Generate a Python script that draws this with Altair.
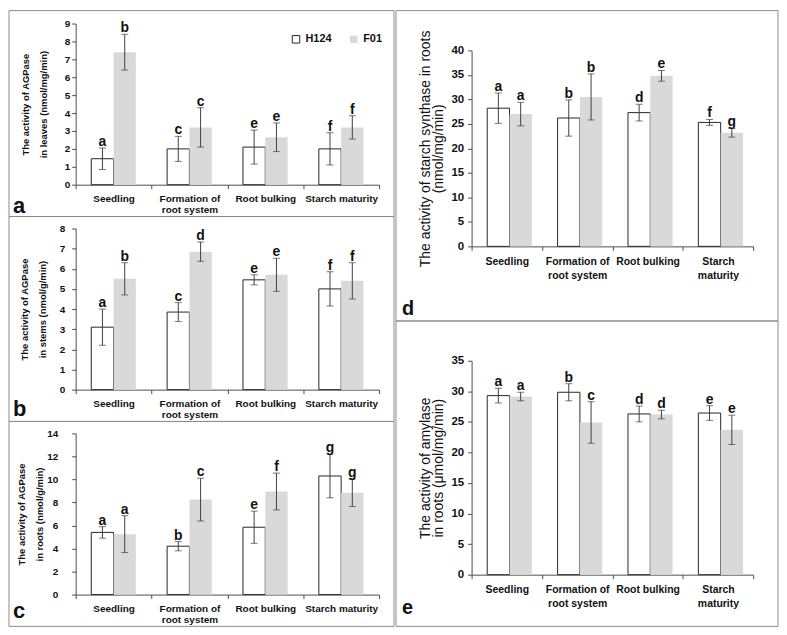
import altair as alt
import pandas as pd

stages = ["Seedling", "Formation of root system", "Root bulking", "Starch maturity"]
varieties = ["H124", "F01"]

# Panel a: AGPase in leaves
a_h124 = [1.45, 2.0, 2.1, 2.0]
a_f01 = [7.4, 3.2, 2.65, 3.2]
a_h124_err = [0.6, 0.7, 0.95, 0.9]
a_f01_err = [1.0, 1.1, 0.8, 0.65]
a_h124_let = ["a", "c", "e", "f"]
a_f01_let = ["b", "c", "e", "f"]

# Panel b: AGPase in stems
b_h124 = [3.1, 3.85, 5.45, 5.0]
b_f01 = [5.5, 6.85, 5.7, 5.4]
b_h124_err = [0.9, 0.47, 0.25, 0.85]
b_f01_err = [0.8, 0.48, 0.82, 0.9]
b_h124_let = ["a", "c", "e", "f"]
b_f01_let = ["b", "d", "e", "f"]

# Panel c: AGPase in roots
c_h124 = [5.4, 4.2, 5.85, 10.3]
c_f01 = [5.25, 8.25, 8.95, 8.85]
c_h124_err = [0.5, 0.4, 1.4, 1.9]
c_f01_err = [1.6, 1.85, 1.6, 1.2]
c_h124_let = ["a", "b", "e", "g"]
c_f01_let = ["a", "c", "f", "g"]

# Panel d: starch synthase in roots
d_h124 = [28.2, 26.2, 27.3, 25.3]
d_f01 = [27.0, 30.5, 34.8, 23.2]
d_h124_err = [3.1, 3.7, 1.7, 0.6]
d_f01_err = [2.4, 4.7, 1.1, 0.9]
d_h124_let = ["a", "b", "d", "f"]
d_f01_let = ["a", "b", "e", "g"]

# Panel e: amylase in roots
e_h124 = [29.3, 29.85, 26.3, 26.45]
e_f01 = [29.15, 24.9, 26.2, 23.7]
e_h124_err = [1.2, 1.4, 1.3, 1.2]
e_f01_err = [0.7, 3.4, 0.7, 2.4]
e_h124_let = ["a", "b", "d", "e"]
e_f01_let = ["a", "c", "d", "e"]

GREY = "#d9d9d9"
AX = "#4d4d4d"
EB = "#404040"
FRAME = "#8c8c8c"
TXT = "#111111"


def make_df(h, f, he, fe, hl, fl):
    rows = []
    for i, s in enumerate(stages):
        rows.append({"stage": s, "variety": "H124", "mean": h[i], "err": he[i], "letter": hl[i]})
        rows.append({"stage": s, "variety": "F01", "mean": f[i], "err": fe[i], "letter": fl[i]})
    df = pd.DataFrame(rows)
    df["lo"] = df["mean"] - df["err"]
    df["hi"] = df["mean"] + df["err"]
    return df


dummy = pd.DataFrame({"k": [0]})


def panel(df, ymax, ystep, ytitle, geo, left, f01_stroke, ylabpad, ytitlepad,
          leg_xy, letter, letter_xy, extra=0):
    L, T, W, H, R, B = geo
    if left:
        expr = ("datum.value == 'Formation of root system' ? "
                "['Formation of', 'root system'] : datum.value")
    else:
        expr = ("datum.value == 'Formation of root system' ? "
                "['Formation of', 'root system'] : "
                "(datum.value == 'Starch maturity' ? ['Starch', 'maturity'] : datum.value)")
    xaxis = alt.Axis(
        title=None, labelAngle=0, tickBand="extent", labelExpr=expr,
        labelFontSize=10 if left else 10.5,
        labelFontWeight="bold",
        labelColor=TXT, labelLineHeight=11 if left else 14,
        labelPadding=5 if left else 6, tickSize=4,
        domainColor=AX, tickColor=AX,
    )
    x = alt.X("stage:N", sort=stages,
              scale=alt.Scale(paddingInner=0, paddingOuter=0), axis=xaxis)
    xo = alt.XOffset("variety:N", sort=varieties,
                     scale=alt.Scale(paddingInner=0,
                                     paddingOuter=0.7 if left else 0.76))
    yaxis = alt.Axis(
        values=list(range(0, ymax + 1, ystep)), grid=False, title=ytitle,
        titleFontSize=9.5 if left else 14,
        titleFontWeight="bold" if left else "normal",
        titleLineHeight=18 if left else 14,
        titlePadding=ytitlepad, titleColor=TXT,
        labelFontSize=10 if left else 11.5,
        labelFontWeight="bold",
        labelColor=TXT, labelPadding=ylabpad, tickSize=4,
        domainColor=AX, tickColor=AX,
    )
    if extra > 0:
        yscale = alt.Scale(domain=[0, ymax], nice=False, zero=True,
                           range=[H + extra, extra])
    else:
        yscale = alt.Scale(domain=[0, ymax], nice=False, zero=True)

    leg = alt.Legend(
        title=None, orient="none", legendX=leg_xy[0], legendY=leg_xy[1] + extra,
        direction="horizontal", symbolType="square",
        symbolSize=56 if left else 40, symbolStrokeWidth=1,
        labelFontSize=11 if left else 11.5,
        labelFontWeight="bold",
        labelColor=TXT, labelOffset=4 if left else 3,
        columnPadding=15 if left else 7, padding=0,
    )

    frame = alt.Chart(dummy).mark_rect(
        fillOpacity=0, stroke=FRAME, strokeWidth=1
    ).encode(x=alt.value(-L), x2=alt.value(W + R),
             y=alt.value(extra - T), y2=alt.value(extra + H + B))

    base = alt.Chart(df)
    bars = base.mark_bar(strokeWidth=1).encode(
        x=x, xOffset=xo,
        y=alt.Y("mean:Q", scale=yscale, axis=yaxis),
        fill=alt.Fill("variety:N", sort=varieties,
                      scale=alt.Scale(domain=varieties, range=["white", GREY]),
                      legend=leg),
        stroke=alt.Stroke("variety:N", sort=varieties,
                          scale=alt.Scale(domain=varieties,
                                          range=["#262626",
                                                 "#262626" if f01_stroke else "transparent"]),
                          legend=leg),
    )
    rules = base.mark_rule(color=EB, strokeWidth=1).encode(
        x=x, xOffset=xo,
        y=alt.Y("lo:Q", scale=yscale, axis=yaxis), y2="hi:Q",
    )
    cap_lo = base.mark_tick(color=EB, thickness=1, size=7).encode(
        x=x, xOffset=xo, y=alt.Y("lo:Q", scale=yscale, axis=yaxis))
    cap_hi = base.mark_tick(color=EB, thickness=1, size=7).encode(
        x=x, xOffset=xo, y=alt.Y("hi:Q", scale=yscale, axis=yaxis))
    letters = base.mark_text(
        fontSize=14, fontWeight="bold", baseline="alphabetic", dy=-2, color=TXT
    ).encode(x=x, xOffset=xo, y=alt.Y("hi:Q", scale=yscale, axis=yaxis),
             text="letter:N")
    tag = alt.Chart(dummy).mark_text(
        text=letter, fontSize=22 if left else 20, fontWeight="bold",
        align="left", baseline="alphabetic", color=TXT
    ).encode(x=alt.value(letter_xy[0]), y=alt.value(letter_xy[1] + extra))

    return alt.layer(frame, bars, rules, cap_lo, cap_hi, letters, tag).properties(
        width=W, height=H + extra)


# geometry: (left, top, width, height, right, bottom) around the data area
ga = (67, 13, 305, 162, 15, 32)
gb = (67, 12, 305, 162, 15, 32)
gc = (67, 12, 305, 162, 15, 32)
gd = (76, 40, 283, 197, 25, 75)
ge = (76, 40, 283, 215, 25, 52)

pa = panel(make_df(a_h124, a_f01, a_h124_err, a_f01_err, a_h124_let, a_f01_let),
           9, 1, ["The activity of AGPase", "in leaves (nmol/mg/min)"], ga, True, False,
           2, 16, (216, 10), "a", (-63, 162 + 28))
pb = panel(make_df(b_h124, b_f01, b_h124_err, b_f01_err, b_h124_let, b_f01_let),
           8, 1, ["The activity of AGPase", "in stems (nmol/g/min)"], gb, True, True,
           7, 12, (218, 9), "b", (-63, 162 + 27))
pc = panel(make_df(c_h124, c_f01, c_h124_err, c_f01_err, c_h124_let, c_f01_let),
           14, 2, ["The activity of AGPase", "in roots (nmol/g/min)"], gc, True, True,
           14, 2, (218, 8), "c", (-63, 162 + 24))
pd_ = panel(make_df(d_h124, d_f01, d_h124_err, d_f01_err, d_h124_let, d_f01_let),
            40, 5, ["The activity of starch synthase in roots", "(nmol/mg/min)"], gd, False, False,
            4, 5, (204, 13), "d", (-70, 197 + 69), extra=27)
pe = panel(make_df(e_h124, e_f01, e_h124_err, e_f01_err, e_h124_let, e_f01_let),
           35, 5, ["The activity of amylase", "in roots (\u03bcmol/mg/min)"], ge, False, False,
           4, 5, (202, 17), "e", (-70, 215 + 40))

left_col = alt.vconcat(pa, pb, pc, spacing=32 + 12, bounds="flush")
right_col = alt.vconcat(pd_, pe, spacing=75 + 40, bounds="flush")

chart = alt.concat(left_col, right_col, columns=2, align="none", spacing=0,
                   padding=0).configure(
    font="Liberation Sans", background="white"
).configure_view(stroke="transparent")

chart.save("out.html", embed_options={"renderer": "svg", "actions": False})
